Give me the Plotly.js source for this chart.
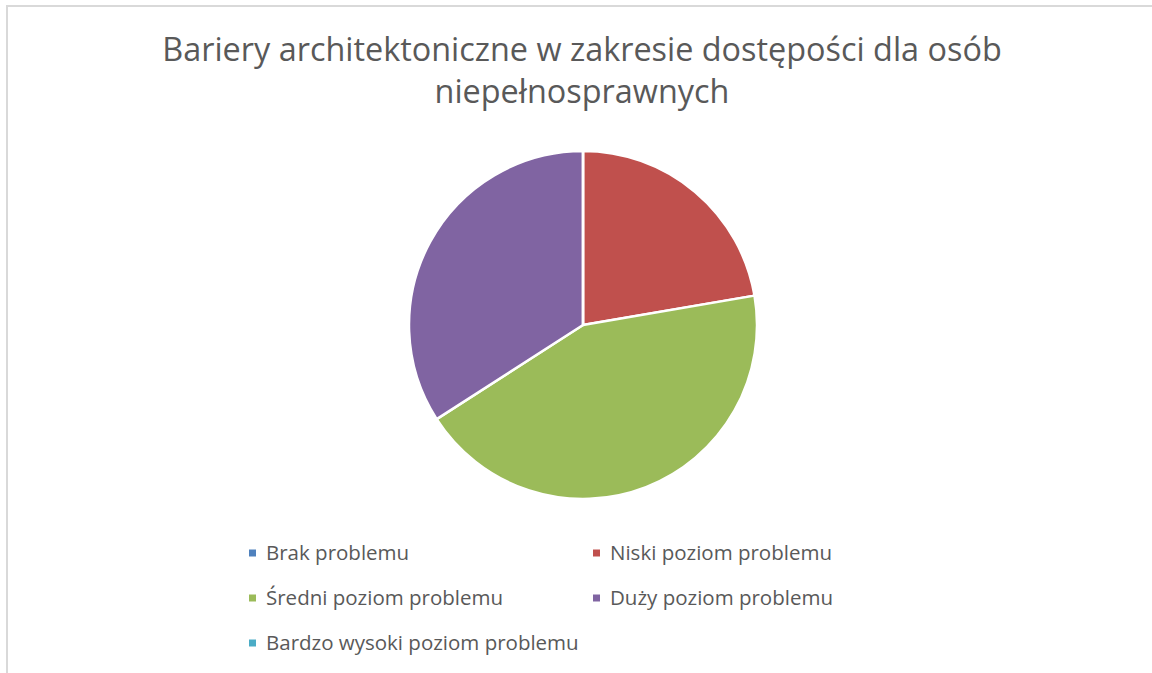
<!DOCTYPE html>
<html>
<head>
<meta charset="utf-8">
<script src="https://cdn.plot.ly/plotly-3.0.1.min.js"></script>
<style>
  html, body { margin: 0; padding: 0; background: #ffffff; }
  #chart { width: 1152px; height: 673px; }
</style>
</head>
<body>
<div id="chart"></div>
<script>
// ---- data ----
const chartTitle = "Bariery architektoniczne w zakresie dostępości dla osób<br>niepełnosprawnych";
const labels = ["Brak problemu", "Niski poziom problemu", "Średni poziom problemu", "Duży poziom problemu", "Bardzo wysoki poziom problemu"];
const values = [0, 22.3, 43.6, 34.1, 0];
const colors = ["#4F81BD", "#C0504D", "#9BBB59", "#8064A2", "#4BACC6"];

const W = 1152, H = 673;
const textColor = "#595959";
const fontFam = "'Open Sans', 'Noto Sans', sans-serif";

// legend (2 columns, row-wise), built from labels/colors
const legCols = [249, 593];
const legRows = [553, 598, 643];
const shapes = [
  // chart frame (left and top edges)
  {type: "line", xref: "paper", yref: "paper", x0: 7 / W, x1: 7 / W, y0: 0, y1: 1 - 5 / H, line: {color: "#d9d9d9", width: 2}},
  {type: "line", xref: "paper", yref: "paper", x0: 6 / W, x1: 1, y0: 1 - 6 / H, y1: 1 - 6 / H, line: {color: "#d9d9d9", width: 2}}
];
const annotations = [];
labels.forEach((lab, i) => {
  const cx = legCols[i % 2], cy = legRows[Math.floor(i / 2)];
  shapes.push({type: "rect", xref: "paper", yref: "paper",
    x0: (cx) / W, x1: (cx + 7) / W, y0: 1 - (cy + 3.5) / H, y1: 1 - (cy - 3.5) / H,
    fillcolor: colors[i], line: {width: 0}});
  annotations.push({xref: "paper", yref: "paper", x: (cx + 15) / W, y: 1 - (cy - 1) / H,
    xanchor: "left", yanchor: "middle", showarrow: false, text: lab,
    font: {family: fontFam, size: 20.5, color: textColor}});
});

const trace = {
  type: "pie",
  labels: labels,
  values: values,
  sort: false,
  direction: "clockwise",
  rotation: 0,
  marker: {colors: colors, line: {color: "#ffffff", width: 2.5}},
  textinfo: "none",
  hoverinfo: "label+percent",
  showlegend: false,
  domain: {x: [409 / W, 757 / W], y: [1 - 499 / H, 1 - 151 / H]}
};

const layout = {
  width: W, height: H,
  margin: {l: 0, r: 0, t: 0, b: 0},
  paper_bgcolor: "#ffffff",
  title: {
    text: chartTitle,
    x: 582 / W, xanchor: "center",
    y: 1 - 61 / H, yanchor: "top",
    font: {family: fontFam, size: 32.4, color: textColor}
  },
  showlegend: false,
  shapes: shapes,
  annotations: annotations
};

Plotly.newPlot("chart", [trace], layout, {displayModeBar: false, staticPlot: true});
</script>
</body>
</html>
